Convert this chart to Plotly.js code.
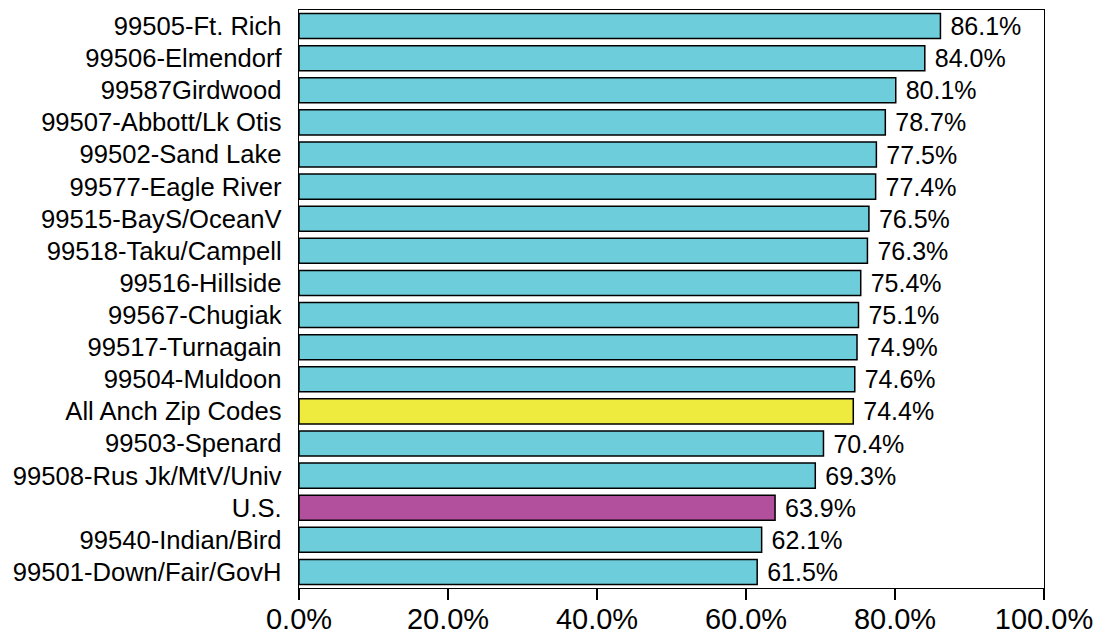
<!DOCTYPE html>
<html>
<head>
<meta charset="utf-8">
<script src="https://cdn.plot.ly/plotly-3.0.1.min.js"></script>
<style>html,body{margin:0;padding:0;background:#fff;}#chart{width:1099px;height:637px;}</style>
</head>
<body>
<div id="chart"></div>
<script>
const categories = [
  "99505-Ft. Rich",
  "99506-Elmendorf",
  "99587Girdwood",
  "99507-Abbott/Lk Otis",
  "99502-Sand Lake",
  "99577-Eagle River",
  "99515-BayS/OceanV",
  "99518-Taku/Campell",
  "99516-Hillside",
  "99567-Chugiak",
  "99517-Turnagain",
  "99504-Muldoon",
  "All Anch Zip Codes",
  "99503-Spenard",
  "99508-Rus Jk/MtV/Univ",
  "U.S.",
  "99540-Indian/Bird",
  "99501-Down/Fair/GovH"
];
const values = [86.1, 84.0, 80.1, 78.7, 77.5, 77.4, 76.5, 76.3, 75.4, 75.1, 74.9, 74.6, 74.4, 70.4, 69.3, 63.9, 62.1, 61.5];
const tickValues = [0, 20, 40, 60, 80, 100];

const baseColor = "#6ECDDB";
const highlightColors = {"All Anch Zip Codes": "#EEEA3E", "U.S.": "#B3509E"};
const barColors = categories.map(c => highlightColors[c] || baseColor);

const trace = {
  type: "bar",
  orientation: "h",
  y: categories,
  x: values,
  marker: {color: barColors, line: {color: "#000", width: 1.5}},
  texttemplate: "\u00a0%{x:.1f}%",
  textposition: "outside",
  constraintext: "none",
  textfont: {family: "Liberation Sans, Arial, sans-serif", size: 25, color: "#000"},
  cliponaxis: false,
  hoverinfo: "none"
};

const layout = {
  width: 1099, height: 637,
  margin: {l: 299, r: 55, t: 10, b: 49},
  paper_bgcolor: "#fff", plot_bgcolor: "#fff",
  bargap: 0.22,
  showlegend: false,
  font: {family: "Liberation Sans, Arial, sans-serif", color: "#000"},
  xaxis: {
    range: [0, 100],
    tickvals: tickValues,
    ticktext: tickValues.map(v => v.toFixed(1) + "%"),
    ticks: "outside", ticklen: 11, tickwidth: 1.3, tickcolor: "#000",
    ticklabelstandoff: -6,
    tickfont: {size: 29, color: "#000"},
    showgrid: false, zeroline: false,
    showline: true, mirror: true, linecolor: "#000", linewidth: 1.3
  },
  yaxis: {
    autorange: "reversed",
    type: "category",
    ticks: "", ticklabelstandoff: 11,
    tickfont: {size: 25.6, color: "#000"},
    showgrid: false, zeroline: false,
    showline: true, mirror: true, linecolor: "#000", linewidth: 1.3
  }
};

Plotly.newPlot("chart", [trace], layout, {displayModeBar: false, staticPlot: true});
</script>
</body>
</html>
